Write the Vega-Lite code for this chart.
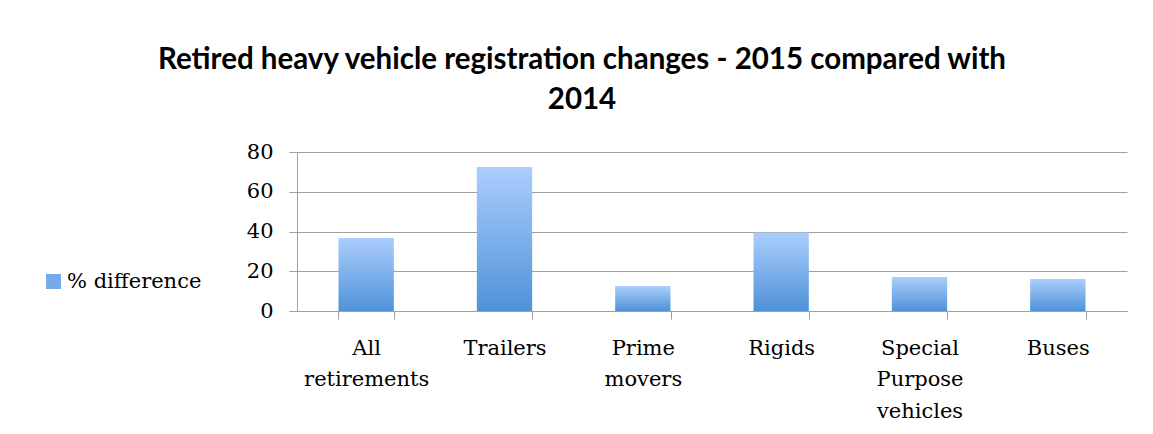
{
  "$schema": "https://vega.github.io/schema/vega-lite/v6.json",
  "autosize": {"type": "none"},
  "width": 830,
  "height": 159,
  "padding": {"left": 297, "top": 152, "right": 26, "bottom": 123},
  "background": "white",
  "title": {
    "text": ["Retired heavy vehicle registration changes - 2015 compared with", "2014"],
    "font": "Lato",
    "fontSize": 29.5,
    "fontWeight": "bold",
    "color": "black",
    "lineHeight": 40,
    "anchor": "middle",
    "dx": -130,
    "offset": 26
  },
  "data": {
    "values": [
      {"category": "All retirements", "series": "% difference", "value": 36.7},
      {"category": "Trailers", "series": "% difference", "value": 72.4},
      {"category": "Prime movers", "series": "% difference", "value": 12.6},
      {"category": "Rigids", "series": "% difference", "value": 39.5},
      {"category": "Special Purpose vehicles", "series": "% difference", "value": 17.1},
      {"category": "Buses", "series": "% difference", "value": 16.1}
    ]
  },
  "mark": {
    "type": "bar",
    "fill": {
      "gradient": "linear", "x1": 0, "y1": 0, "x2": 0, "y2": 1,
      "stops": [{"offset": 0, "color": "#abcefd"}, {"offset": 1, "color": "#4f92d8"}]
    }
  },
  "encoding": {
    "x": {
      "field": "category", "type": "nominal", "sort": null, "title": null,
      "scale": {"paddingInner": 0.6, "paddingOuter": 0.3},
      "axis": {
        "labelAngle": 0,
        "labelExpr": "split(datum.label, ' ')",
        "labelFont": "DejaVu Serif",
        "labelFontSize": 21,
        "labelLineHeight": 31.5,
        "labelColor": "black",
        "labelPadding": 18,
        "tickBand": "extent",
        "tickColor": "#a0a0a0",
        "tickSize": 8,
        "domainColor": "#a0a0a0",
        "grid": false
      }
    },
    "y": {
      "field": "value", "type": "quantitative", "title": null,
      "scale": {"domain": [0, 80], "nice": false},
      "axis": {
        "values": [0, 20, 40, 60, 80],
        "labelFont": "DejaVu Serif",
        "labelFontSize": 21,
        "labelColor": "black",
        "labelPadding": 16,
        "tickColor": "#a0a0a0",
        "tickSize": 8,
        "domainColor": "#a0a0a0",
        "gridColor": "#a0a0a0",
        "gridWidth": 1
      }
    },
    "color": {
      "field": "series", "type": "nominal",
      "scale": {"range": ["#74abea"]},
      "legend": {
        "title": null,
        "orient": "none",
        "legendX": -254,
        "legendY": 119,
        "symbolType": "square",
        "symbolSize": 225,
        "symbolStrokeWidth": 0,
        "labelFont": "DejaVu Serif",
        "labelFontSize": 21,
        "labelColor": "black",
        "labelOffset": 3,
        "symbolOpacity": 1
      }
    }
  },
  "config": {"view": {"stroke": null}}
}
